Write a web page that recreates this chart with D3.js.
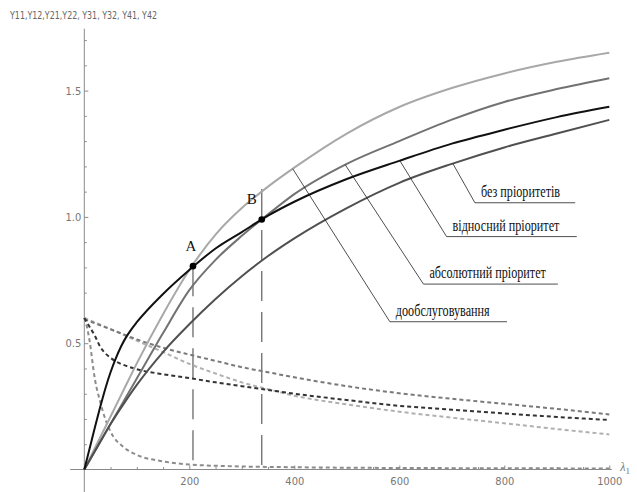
<!doctype html>
<html lang="uk">
<head>
<meta charset="utf-8" />
<title>Y(λ1)</title>
<style>
  html, body { margin: 0; padding: 0; background: #fff; }
  svg { display: block; }
  .tick text { font: 11px "Liberation Sans Narrow", "DejaVu Sans Condensed", sans-serif; fill: #777; }
  .tick line { stroke: #8a8a8a; }
  .ann { font: 16px "Liberation Serif", serif; fill: #111; }
</style>
</head>
<body>
<svg id="chart" width="637" height="492"></svg>
<script src="https://cdn.jsdelivr.net/npm/d3@7/dist/d3.min.js"></script>
<script>
// λ1 grid shared by most curves
const lam = [0, 25, 50, 75, 100, 150, 200, 250, 300, 350, 400, 500, 600, 700, 800, 900, 1000];

// solid curves
const dooSolid = [0, 0.105, 0.21, 0.315, 0.42, 0.615, 0.79, 0.93, 1.035, 1.12, 1.195, 1.33, 1.435, 1.51, 1.568, 1.614, 1.65];
const absSolid = [0, 0.09, 0.18, 0.27, 0.36, 0.54, 0.71, 0.83, 0.925, 1.01, 1.09, 1.21, 1.30, 1.385, 1.455, 1.506, 1.549];
const noSolid  = [0, 0.09, 0.18, 0.26, 0.335, 0.465, 0.575, 0.675, 0.765, 0.845, 0.915, 1.035, 1.135, 1.21, 1.275, 1.33, 1.384];
// the black curve rises steeply, so it gets a finer grid near zero
const relLam   = [0, 10, 20, 30, 40, 50, 60, 70, 80, 90, 100, 150, 200, 250, 300, 350, 400, 500, 600, 700, 800, 900, 1000];
const relSolid = [0, 0.082, 0.165, 0.245, 0.32, 0.385, 0.44, 0.487, 0.525, 0.556, 0.583, 0.695, 0.79, 0.875, 0.94, 1.005, 1.06, 1.15, 1.222, 1.29, 1.345, 1.395, 1.436];

// dashed curves
const grayDash  = [0.595, 0.575, 0.555, 0.535, 0.515, 0.482, 0.455, 0.43, 0.405, 0.385, 0.365, 0.33, 0.302, 0.28, 0.26, 0.24, 0.218];
const lightDash = [0.6, 0.578, 0.556, 0.533, 0.51, 0.465, 0.418, 0.38, 0.345, 0.318, 0.292, 0.258, 0.229, 0.205, 0.183, 0.16, 0.139];
const blackLam  = [0, 10, 20, 30, 40, 50, 60, 80, 100, 150, 200, 250, 300, 350, 400, 500, 600, 700, 800, 900, 1000];
const blackDash = [0.6, 0.565, 0.53, 0.487, 0.46, 0.442, 0.428, 0.41, 0.397, 0.377, 0.362, 0.345, 0.33, 0.315, 0.30, 0.275, 0.252, 0.237, 0.222, 0.208, 0.196];
const fastLam  = [0, 5, 10, 20, 30, 40, 50, 75, 100, 150, 200, 300, 400, 600, 800, 1000];
const fastDash = [0.6, 0.565, 0.51, 0.36, 0.27, 0.2, 0.15, 0.088, 0.058, 0.032, 0.02, 0.012, 0.009, 0.006, 0.005, 0.004];

// points A, B and their drop lines
const marks = [
  { name: 'A', lam: 207, val: 0.805, top: 0.805 },
  { name: 'B', lam: 338, val: 0.99, top: 1.11 },
];

// curve labels: anchor on the curve, underline start/end (λ) and height
const labels = [
  { text: 'без пріоритетів',      xs: lam,    curve: noSolid,  at: 702, x0: 744, x1: 935, v: 1.056 },
  { text: 'відносний пріоритет',  xs: relLam, curve: relSolid, at: 601, x0: 690, x1: 938, v: 0.922 },
  { text: 'абсолютний пріоритет', xs: lam,    curve: absSolid, at: 497, x0: 646, x1: 902, v: 0.734 },
  { text: 'дообслуговування',     xs: lam,    curve: dooSolid, at: 397, x0: 582, x1: 805, v: 0.585 },
];

const xTicks = [200, 400, 600, 800, 1000];
const yTicks = [0.5, 1.0, 1.5];

const svg = d3.select('#chart');
const x = d3.scaleLinear([0, 1000], [84.3, 609.3]);
const y = d3.scaleLinear([0, 1.5], [469.5, 90.6]);

// axes through the origin, ticks pointing inward
const axisColor = '#8a8a8a';
svg.append('line').attr('x1', x(-27)).attr('x2', x(1005)).attr('y1', y(0)).attr('y2', y(0))
  .attr('stroke', axisColor).attr('stroke-width', 1);
svg.append('line').attr('x1', x(0)).attr('x2', x(0)).attr('y1', y(-0.09)).attr('y2', y(1.745))
  .attr('stroke', axisColor).attr('stroke-width', 1);

const gx = svg.append('g').attr('transform', `translate(0,${y(0)})`);
gx.call(d3.axisBottom(x).tickValues(d3.range(50, 1001, 50).filter(d => d % 200)).tickSize(-2.5).tickFormat(''));
gx.append('g').call(d3.axisBottom(x).tickValues(xTicks).tickSize(-4).tickPadding(8).tickFormat(d3.format('d')));
gx.selectAll('.domain').remove();

const gy = svg.append('g').attr('transform', `translate(${x(0)},0)`);
gy.call(d3.axisLeft(y).tickValues(d3.range(1, 18).map(d => d / 10).filter(d => Math.round(d * 10) % 5)).tickSize(-2.5).tickFormat(''));
gy.append('g').call(d3.axisLeft(y).tickValues(yTicks).tickSize(-4).tickPadding(3).tickFormat(d3.format('.1f')));
gy.selectAll('.domain').remove();

svg.append('text').attr('x', 10).attr('y', 19)
  .attr('textLength', 147).attr('lengthAdjust', 'spacingAndGlyphs')
  .style('font', '11px "Liberation Sans Narrow", "DejaVu Sans Condensed", sans-serif').attr('fill', '#666')
  .text('Y11,Y12,Y21,Y22, Y31, Y32, Y41, Y42');

const lamLabel = svg.append('text').attr('x', x(1000) + 11).attr('y', y(0) + 1)
  .style('font', 'italic 12px "Liberation Serif", serif').attr('fill', '#777');
lamLabel.append('tspan').text('λ');
lamLabel.append('tspan').attr('dy', 3).style('font-size', '9px').style('font-style', 'normal').text('1');

// drop lines
svg.selectAll('line.drop').data(marks).join('line').attr('class', 'drop')
  .attr('x1', d => x(d.lam)).attr('x2', d => x(d.lam))
  .attr('y1', d => y(d.top)).attr('y2', y(0))
  .attr('stroke', '#6a6a6a').attr('stroke-width', 1.3).attr('stroke-dasharray', '30,11');

const line = d3.line().curve(d3.curveMonotoneX).x(d => x(d[0])).y(d => y(d[1]));
const zip = (xs, ys) => xs.map((v, i) => [v, ys[i]]);

const dashed = [
  { vals: fastDash, xs: fastLam, color: '#8c8c8c' },
  { vals: lightDash, xs: lam, color: '#b0b0b0' },
  { vals: grayDash, xs: lam, color: '#7a7a7a' },
  { vals: blackDash, xs: blackLam, color: '#333' },
];
svg.selectAll('path.dash').data(dashed).join('path').attr('class', 'dash')
  .attr('d', d => line(zip(d.xs, d.vals)))
  .attr('fill', 'none').attr('stroke', d => d.color)
  .attr('stroke-width', 2).attr('stroke-dasharray', '4,3');

const solids = [
  { vals: dooSolid, xs: lam, color: '#a8a8a8' },
  { vals: absSolid, xs: lam, color: '#727272' },
  { vals: noSolid, xs: lam, color: '#505050' },
  { vals: relSolid, xs: relLam, color: '#111' },
];
svg.selectAll('path.solid').data(solids).join('path').attr('class', 'solid')
  .attr('d', d => line(zip(d.xs, d.vals)))
  .attr('fill', 'none').attr('stroke', d => d.color).attr('stroke-width', 2);

// labelled leaders
const valueAt = (xs, curve, l) => {
  const i = d3.bisectRight(xs, l) - 1;
  const t = (l - xs[i]) / (xs[i + 1] - xs[i]);
  return curve[i] + t * (curve[i + 1] - curve[i]);
};
const ann = svg.selectAll('g.lbl').data(labels).join('g').attr('class', 'lbl');
ann.append('path')
  .attr('d', d => `M${x(d.at)},${y(valueAt(d.xs, d.curve, d.at))}L${x(d.x0)},${y(d.v)}H${x(d.x1)}`)
  .attr('fill', 'none').attr('stroke', '#222').attr('stroke-width', 0.8);
// the source typesets these in a tall, horizontally squeezed Times
ann.append('text').attr('class', 'ann')
  .attr('x', d => x(d.x0) + 6).attr('y', d => y(d.v) - 6)
  .text(d => d.text)
  .each(function() {
    const w = this.getComputedTextLength();
    d3.select(this).attr('textLength', w * 0.76).attr('lengthAdjust', 'spacingAndGlyphs');
  });

// points A, B
svg.selectAll('circle.pt').data(marks).join('circle').attr('class', 'pt')
  .attr('cx', d => x(d.lam)).attr('cy', d => y(d.val)).attr('r', 3.3).attr('fill', '#000');
svg.selectAll('text.pt').data(marks).join('text').attr('class', 'pt ann')
  .style('font-size', '15px')
  .attr('x', d => x(d.lam) + (d.name === 'A' ? -2 : -10)).attr('y', d => y(d.val) - 15)
  .attr('text-anchor', 'middle').text(d => d.name);
</script>
</body>
</html>
